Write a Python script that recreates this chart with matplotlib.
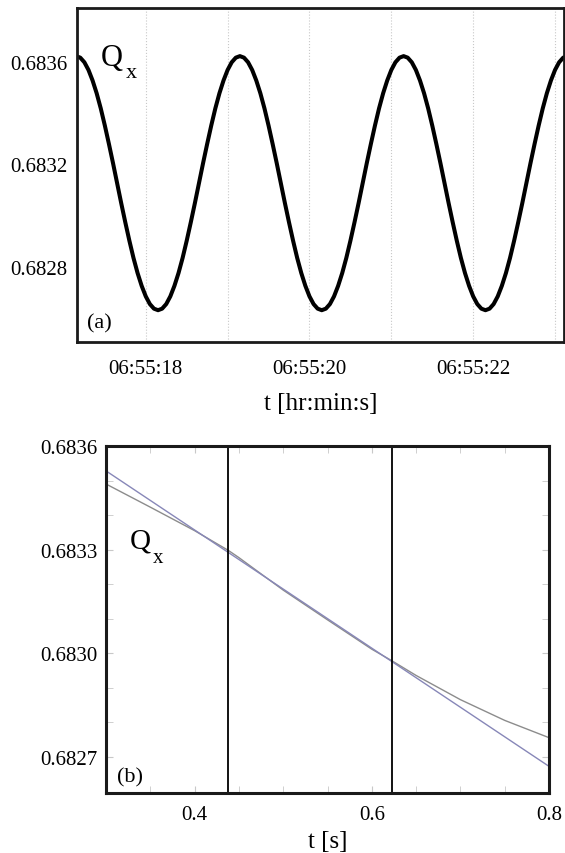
import matplotlib
matplotlib.use('Agg')
import matplotlib.pyplot as plt
from matplotlib.ticker import FuncFormatter, MultipleLocator

plt.rcParams['font.family'] = ['Liberation Serif', 'DejaVu Serif']

# (a) tune Qx vs time, seconds after 06:55:00
t_a = [17.10, 17.15, 17.20, 17.25, 17.30, 17.35, 17.40, 17.45, 17.50, 17.55,
       17.60, 17.65, 17.70, 17.75, 17.80, 17.85, 17.90, 17.95, 18.00, 18.05,
       18.10, 18.15, 18.20, 18.25, 18.30, 18.35, 18.40, 18.45, 18.50, 18.55,
       18.60, 18.65, 18.70, 18.75, 18.80, 18.85, 18.90, 18.95, 19.00, 19.05,
       19.10, 19.15, 19.20, 19.25, 19.30, 19.35, 19.40, 19.45, 19.50, 19.55,
       19.60, 19.65, 19.70, 19.75, 19.80, 19.85, 19.90, 19.95, 20.00, 20.05,
       20.10, 20.15, 20.20, 20.25, 20.30, 20.35, 20.40, 20.45, 20.50, 20.55,
       20.60, 20.65, 20.70, 20.75, 20.80, 20.85, 20.90, 20.95, 21.00, 21.05,
       21.10, 21.15, 21.20, 21.25, 21.30, 21.35, 21.40, 21.45, 21.50, 21.55,
       21.60, 21.65, 21.70, 21.75, 21.80, 21.85, 21.90, 21.95, 22.00, 22.05,
       22.10, 22.15, 22.20, 22.25, 22.30, 22.35, 22.40, 22.45, 22.50, 22.55,
       22.60, 22.65, 22.70, 22.75, 22.80, 22.85, 22.90, 22.95, 23.00, 23.05,
       23.10, 23.15, 23.20]
qx_a = [0.683617, 0.683623, 0.683617, 0.683599, 0.683569, 0.683528, 0.683478, 0.683419, 0.683352, 0.683280,
        0.683205, 0.683127, 0.683049, 0.682974, 0.682902, 0.682835, 0.682776, 0.682726, 0.682685, 0.682655,
        0.682637, 0.682631, 0.682637, 0.682655, 0.682685, 0.682726, 0.682776, 0.682835, 0.682902, 0.682974,
        0.683049, 0.683127, 0.683205, 0.683280, 0.683352, 0.683419, 0.683478, 0.683528, 0.683569, 0.683599,
        0.683617, 0.683623, 0.683617, 0.683599, 0.683569, 0.683528, 0.683478, 0.683419, 0.683352, 0.683280,
        0.683205, 0.683127, 0.683049, 0.682974, 0.682902, 0.682835, 0.682776, 0.682726, 0.682685, 0.682655,
        0.682637, 0.682631, 0.682637, 0.682655, 0.682685, 0.682726, 0.682776, 0.682835, 0.682902, 0.682974,
        0.683049, 0.683127, 0.683205, 0.683280, 0.683352, 0.683419, 0.683478, 0.683528, 0.683569, 0.683599,
        0.683617, 0.683623, 0.683617, 0.683599, 0.683569, 0.683528, 0.683478, 0.683419, 0.683352, 0.683280,
        0.683205, 0.683127, 0.683049, 0.682974, 0.682902, 0.682835, 0.682776, 0.682726, 0.682685, 0.682655,
        0.682637, 0.682631, 0.682637, 0.682655, 0.682685, 0.682726, 0.682776, 0.682835, 0.682902, 0.682974,
        0.683049, 0.683127, 0.683205, 0.683280, 0.683352, 0.683419, 0.683478, 0.683528, 0.683569, 0.683599,
        0.683617, 0.683623, 0.683617]
yticks_a = [0.6828, 0.6832, 0.6836]
xticks_a = [18, 20, 22]

# (b) zoom on one falling edge: measured tune and linear fit
t_b = [0.30, 0.35, 0.40, 0.438, 0.45, 0.50, 0.55, 0.60, 0.623, 0.65, 0.70, 0.75, 0.80]
qx_b = [0.683490, 0.683423, 0.683355, 0.683298, 0.683277, 0.683183, 0.683097,
        0.683012, 0.682978, 0.682936, 0.682866, 0.682806, 0.682756]
t_fit = [0.30, 0.80]
qx_fit = [0.683528, 0.682673]
t_cross = [0.438, 0.623]
yticks_b = [0.6827, 0.6830, 0.6833, 0.6836]
xticks_b = [0.4, 0.6, 0.8]

fig = plt.figure(figsize=(5.65, 8.54), dpi=100)

# ---- panel (a)
ax1 = fig.add_axes([0.1363, 0.5984, 0.862, 0.3911])
ax1.plot(t_a, qx_a, color='black', lw=2.9, solid_capstyle='round')
ax1.set_xlim(17.16, 23.11)
ax1.set_ylim(0.682507, 0.683811)
ax1.set_yticks(yticks_a)
ax1.set_yticklabels(['%.4f' % v for v in yticks_a])
ax1.set_xticks(xticks_a)
ax1.xaxis.set_major_formatter(FuncFormatter(lambda v, p: '06:55:%02d' % v))
for s in range(18, 24):
    ax1.axvline(s, color='#c8c8c8', lw=0.8, ls=':', zorder=0)
ax1.tick_params(direction='in', length=0, labelsize=15)
ax1.tick_params(axis='x', pad=12)
ax1.tick_params(axis='y', pad=7)
ax1.set_xlabel('t [hr:min:s]', fontsize=18, labelpad=10)
for sp in ax1.spines.values():
    sp.set_linewidth(2.0)
    sp.set_color('#1a1a1a')
ax1.text(17.45, 0.68359, 'Q', fontsize=22, va='baseline')
ax1.text(17.76, 0.68354, 'x', fontsize=16, va='baseline')
ax1.text(17.28, 0.682565, '(a)', fontsize=16, va='baseline')

# ---- panel (b)
ax2 = fig.add_axes([0.1876, 0.0703, 0.7841, 0.4063])
ax2.plot(t_b, qx_b, color='#8c8c8c', lw=1.0)
ax2.plot(t_fit, qx_fit, color='#8787b8', lw=1.0)
for tc in t_cross:
    ax2.axvline(tc, color='black', lw=1.3)
ax2.set_xlim(0.30, 0.80)
ax2.set_ylim(0.682596, 0.6836)
ax2.set_yticks(yticks_b)
ax2.set_yticklabels(['%.4f' % v for v in yticks_b])
ax2.set_xticks(xticks_b)
ax2.set_xticklabels(['%.1f' % v for v in xticks_b])
ax2.xaxis.set_minor_locator(MultipleLocator(0.05))
ax2.yaxis.set_minor_locator(MultipleLocator(0.0001))
ax2.tick_params(which='both', direction='in', top=True, right=True,
                color='#c8c8c8', length=5, labelsize=15)
ax2.tick_params(axis='x', pad=9)
ax2.tick_params(axis='y', pad=6)
ax2.set_xlabel('t [s]', fontsize=18, labelpad=4)
for sp in ax2.spines.values():
    sp.set_linewidth(2.2)
    sp.set_color('#1a1a1a')
ax2.text(0.327, 0.683307, 'Q', fontsize=21, va='baseline')
ax2.text(0.353, 0.683264, 'x', fontsize=15, va='baseline')
ax2.text(0.3124, 0.682630, '(b)', fontsize=16, va='baseline')

fig.savefig('out.png', dpi=100)
